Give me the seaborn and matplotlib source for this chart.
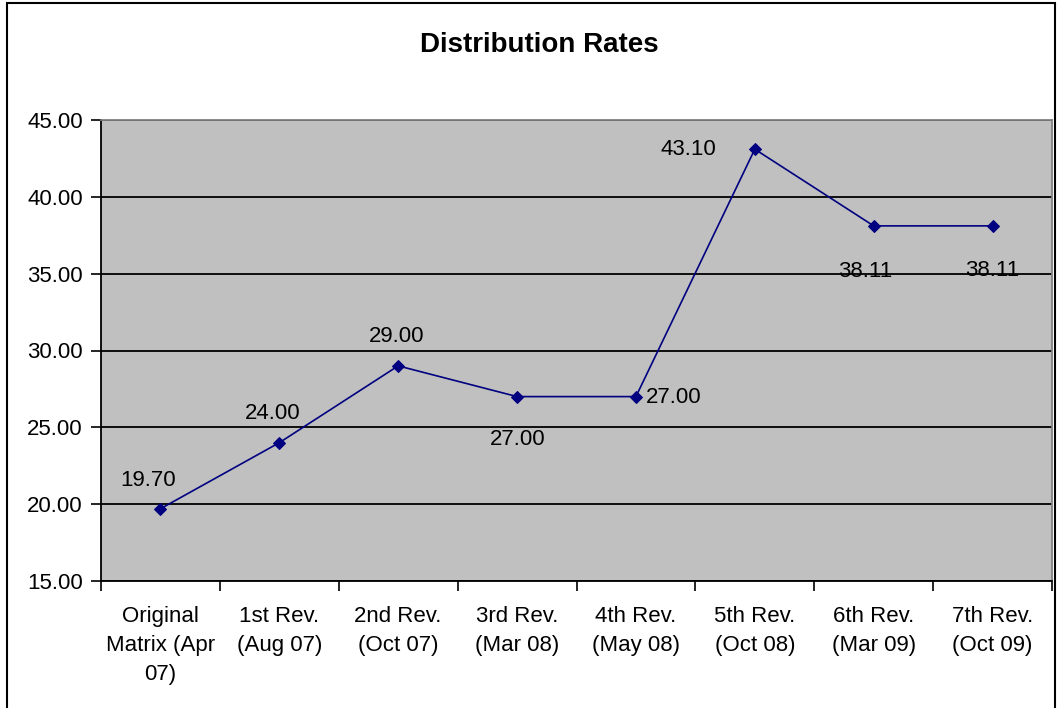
import matplotlib
matplotlib.use("Agg")
import matplotlib.pyplot as plt
import seaborn as sns
import pandas as pd
from matplotlib.patches import Rectangle

categories = ["Original\nMatrix (Apr\n07)", "1st Rev.\n(Aug 07)", "2nd Rev.\n(Oct 07)",
              "3rd Rev.\n(Mar 08)", "4th Rev.\n(May 08)", "5th Rev.\n(Oct 08)",
              "6th Rev.\n(Mar 09)", "7th Rev.\n(Oct 09)"]
rates = [19.70, 24.00, 29.00, 27.00, 27.00, 43.10, 38.11, 38.11]
y_ticks = [15, 20, 25, 30, 35, 40, 45]
title = "Distribution Rates"

# label offsets in pixels (dx, dy up)
label_offsets = [(-12, 28), (-7, 29), (-2, 29), (1, -43), (38, -1), (-66, 0), (-8, -46), (0, -45)]

sns.set_style("white")
plt.rcParams['font.family'] = ['Liberation Sans', 'DejaVu Sans']
plt.rcParams['text.color'] = 'black'
plt.rcParams['xtick.color'] = 'black'
plt.rcParams['ytick.color'] = 'black'

FS = 16

W, H = 1057, 708
fig = plt.figure(figsize=(W / 100, H / 100), dpi=100)
fig.patch.set_facecolor("white")
ax = fig.add_axes([101 / W, 1 - 581 / H, (1052 - 101) / W, (581 - 120) / H])
ax.set_facecolor("#C0C0C0")

df = pd.DataFrame({"x": list(range(len(categories))), "rate": rates})
sns.lineplot(data=df, x="x", y="rate", ax=ax, color="#000080", linewidth=1.2,
             marker="D", markersize=6.5, markeredgecolor="#000080", zorder=5)

ax.set_xlim(-0.5, len(categories) - 0.5)
ax.set_ylim(15, 45)
ax.set_yticks(y_ticks)
ax.set_yticklabels([f"{v:.2f}" for v in y_ticks], fontsize=FS, color="black")
ax.yaxis.grid(True, color="black", linewidth=1.3)
ax.set_axisbelow(True)

ax.set_xticks([i - 0.5 for i in range(len(categories) + 1)])
ax.set_xticklabels([])
ax.set_xticks(list(range(len(categories))), minor=True)
ax.set_xticklabels(categories, minor=True, fontsize=FS, linespacing=1.5, color="black")
ax.tick_params(axis="x", which="major", direction="out", length=7, width=1.2, color="black", bottom=True)
ax.tick_params(axis="x", which="minor", length=0, pad=18)
ax.tick_params(axis="y", direction="out", length=7, width=1.2, color="black", left=True, pad=6)

ax.set_xlabel("")
ax.set_ylabel("")

for s in ["left", "bottom"]:
    ax.spines[s].set_color("black")
    ax.spines[s].set_linewidth(1.3)
for s in ["top", "right"]:
    ax.spines[s].set_color("#808080")
    ax.spines[s].set_linewidth(1.3)
    ax.spines[s].set_visible(True)

for i, (v, (dx, dy)) in enumerate(zip(rates, label_offsets)):
    ax.annotate(f"{v:.2f}", (i, v), xytext=(dx, dy), textcoords="offset pixels",
                ha="center", va="center", fontsize=FS, color="black", zorder=6)

fig.text(539 / W, 1 - 45 / H, title, ha="center", va="center", fontsize=20,
         fontweight="bold", color="black")

fig.patches.append(Rectangle((7 / W, -0.05), (1055 - 7) / W, 1.05 - 3 / H,
                             transform=fig.transFigure, fill=False, edgecolor="black",
                             linewidth=1.5))

fig.savefig("out.png", dpi=100)
